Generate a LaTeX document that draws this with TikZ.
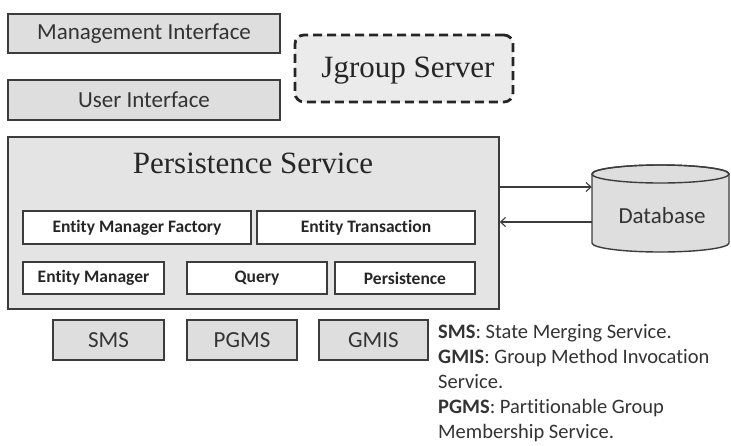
\documentclass[tikz,border=0pt]{standalone}
\usepackage{fontspec}
\setmainfont[Ligatures=NoCommon]{Carlito}
\newfontfamily\serifff{Liberation Serif}
\usetikzlibrary{arrows.meta}
\definecolor{boxfill}{HTML}{DEDEDE}
\definecolor{psfill}{HTML}{E4E4E4}
\definecolor{jgfill}{HTML}{EBEBEB}
\definecolor{edge}{HTML}{3C3C3C}
\definecolor{txt}{HTML}{333333}
\tikzset{
  graybox/.style={draw=edge, line width=1.4pt, fill=boxfill, text=txt, inner sep=0pt, font=\fontsize{23}{27}\selectfont},
  whitebox/.style={draw=edge, line width=1.3pt, fill=white, text=black!85, inner sep=0pt, font=\bfseries\fontsize{17.5}{21}\selectfont, minimum height=33pt},
  legendline/.style={anchor=base west, inner sep=0pt, text=txt, font=\fontsize{20.5}{25}\selectfont},
  link/.style={draw=edge, line width=1.1pt, -{Straight Barb[length=5pt,width=9pt]}}
}
\begin{document}
\begin{tikzpicture}[x=1pt,y=-1pt]
\useasboundingbox (0,0) rectangle (731,445);
% top interface boxes
\node[graybox, minimum width=272pt, minimum height=39pt] (mi) at (144,33.5) {Management Interface};
\node[graybox, minimum width=272pt, minimum height=40pt] (ui) at (144,100) {User Interface};
% Jgroup server
\node[draw=black!85, line width=2.8pt, dash pattern=on 9pt off 5pt, rounded corners=9pt, fill=jgfill, minimum width=218pt, minimum height=67pt, inner sep=0pt] (jg) at (404,68.5) {};
\node[text=black!85, inner sep=0pt, font=\serifff\fontsize{31}{35}\selectfont] (jgt) at (408,71) {Jgroup Server};
% Persistence service container
\node[draw=edge, line width=1.4pt, fill=psfill, minimum width=491pt, minimum height=172pt, inner sep=0pt] (ps) at (253.5,223) {};
\node[text=black!85, inner sep=0pt, font=\serifff\fontsize{31}{35}\selectfont] (pst) at (253,163) {Persistence Service};
\node[whitebox, minimum width=228pt] (emf) at (137,227.5) {Entity Manager Factory};
\node[whitebox, minimum width=218pt] (et) at (366,227.5) {Entity Transaction};
\node[whitebox, minimum width=141pt, minimum height=32pt] (em) at (93.5,278) {Entity Manager};
\node[whitebox, minimum width=140pt, minimum height=32pt] (q) at (257,278) {Query};
\node[whitebox, minimum width=140pt, minimum height=32pt] (p) at (405,278) {Persistence};
% Database cylinder
\filldraw[draw=edge, line width=1.4pt, fill=boxfill] (592,174) -- (592,243) arc[start angle=180, end angle=360, x radius=68.5pt, y radius=9pt] -- (729,174) arc[start angle=0, end angle=180, x radius=68.5pt, y radius=9pt] -- cycle;
\draw[edge, line width=1.4pt] (660.5,174) ellipse [x radius=68.5pt, y radius=9pt];
\node[minimum width=137pt, minimum height=87pt, inner sep=0pt] (db) at (660.5,208.5) {};
\node[inner sep=0pt, text=txt, font=\fontsize{23}{27}\selectfont] (dbt) at (662,216) {Database};
% arrows
\draw[link] (ps.east |- 0,187) -- (db.west |- 0,187);
\draw[link] (db.west |- 0,222) -- (ps.east |- 0,222);
% bottom boxes
\node[graybox, minimum width=111pt, minimum height=40pt] (sms) at (108.5,340) {SMS};
\node[graybox, minimum width=110pt, minimum height=40pt] (pgms) at (242,340) {PGMS};
\node[graybox, minimum width=109pt, minimum height=40pt] (gmis) at (373.5,340) {GMIS};
% legend
\node[legendline] (l1) at (438,338) {\textbf{SMS}: State Merging Service.};
\node[legendline] (l2) at (438,363) {\textbf{GMIS}: Group Method Invocation};
\node[legendline] (l3) at (438,388) {Service.};
\node[legendline] (l4) at (438,413) {\textbf{PGMS}: Partitionable Group};
\node[legendline] (l5) at (438,438) {Membership Service.};
\end{tikzpicture}
\end{document}
